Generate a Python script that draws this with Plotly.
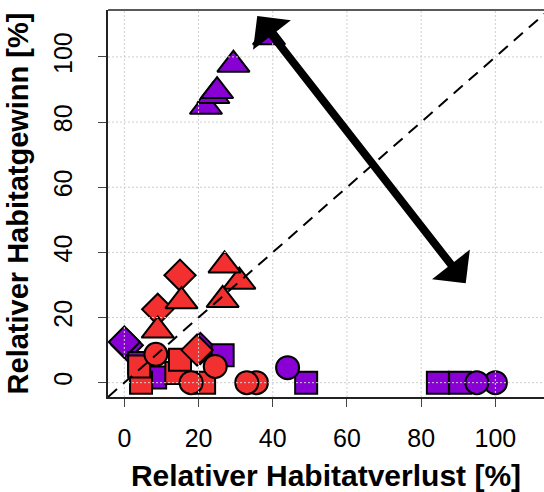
import plotly.graph_objects as go

# ---------------- data ----------------
tick_vals = [0, 20, 40, 60, 80, 100]
tick_text = ["0", "20", "40", "60", "80", "100"]

# purple group
pur_dia_x = [0.8, 0.0, 20.5]
pur_dia_y = [11.5, 12.5, 10.5]
pur_sq_x = [4.0, 8.3, 26.5, 49.0, 84.5, 90.5]
pur_sq_y = [6.0, 1.6, 8.4, 0.0, 0.0, 0.0]
pur_tri_x = [22.0, 24.0, 25.0, 29.4, 39.0]
pur_tri_y = [84.7, 88.0, 89.5, 97.6, 106.0]
pur_cir_x = [44.0, 100.0, 95.0]
pur_cir_y = [4.6, 0.0, 0.0]

# red group
red_sq_x = [4.5, 4.0, 14.0, 15.0, 21.5]
red_sq_y = [0.0, 5.0, 3.0, 7.0, 0.0]
red_dia_x = [19.6, 9.0, 15.0]
red_dia_y = [10.0, 22.5, 33.0]
red_tri_x = [9.0, 15.4, 31.0, 27.0, 26.5]
red_tri_y = [16.0, 25.0, 31.0, 36.0, 25.4]
red_cir_x = [8.5, 18.0, 24.5, 35.6, 33.0]
red_cir_y = [8.7, 0.0, 5.0, 0.0, 0.0]

# double arrow end points
arrow_start = (35.5, 113.0)
arrow_end = (92.0, 30.5)

x_range = [-4.4, 113.1]
y_range = [-4.4, 114.4]

RED = "#F23030"
PURPLE = "#8800D4"

x_title = "Relativer Habitatverlust [%]"
y_title = "Relativer Habitatgewinn [%]"

# ---------------- figure ----------------
fig = go.Figure()

def add(xs, ys, sym, color, size):
    fig.add_trace(go.Scatter(
        x=xs, y=ys, mode="markers",
        marker=dict(symbol=sym, color=color, size=size,
                    line=dict(color="black", width=2)),
        showlegend=False, hoverinfo="skip", cliponaxis=False))

add(pur_dia_x, pur_dia_y, "diamond", PURPLE, 24)
add(pur_sq_x, pur_sq_y, "square", PURPLE, 22)
add(pur_tri_x, pur_tri_y, "triangle-up", PURPLE, 28)
add(pur_cir_x, pur_cir_y, "circle", PURPLE, 23)
add(red_sq_x, red_sq_y, "square", RED, 22)
add(red_dia_x, red_dia_y, "diamond", RED, 24)
add(red_tri_x, red_tri_y, "triangle-up", RED, 28)
add(red_cir_x, red_cir_y, "circle", RED, 23)

shapes = []
# dotted grid drawn above points
for v in tick_vals:
    shapes.append(dict(type="line", xref="x", yref="paper", x0=v, x1=v, y0=0, y1=1,
                       line=dict(color="#CFCFCF", width=1, dash="2px,2px"), layer="above"))
    shapes.append(dict(type="line", xref="paper", yref="y", x0=0, x1=1, y0=v, y1=v,
                       line=dict(color="#CFCFCF", width=1, dash="2px,2px"), layer="above"))
# 1:1 line
shapes.append(dict(type="line", xref="x", yref="y", x0=y_range[0], y0=y_range[0],
                   x1=y_range[1], y1=y_range[1],
                   line=dict(color="black", width=2, dash="12px,8px"), layer="above"))
# top border
shapes.append(dict(type="line", xref="paper", yref="paper", x0=0, x1=1, y0=1, y1=1,
                   line=dict(color="#222222", width=1.5), layer="above"))

fig.update_layout(
    width=544, height=492,
    margin=dict(l=108, r=0, t=10, b=95),
    plot_bgcolor="white", paper_bgcolor="white",
    font=dict(family="Liberation Sans, Arial, sans-serif", color="black"),
    shapes=shapes,
    annotations=[dict(
        x=arrow_end[0], y=arrow_end[1], ax=arrow_start[0], ay=arrow_start[1],
        xref="x", yref="y", axref="x", ayref="y", text="",
        showarrow=True, arrowhead=1, startarrowhead=1, arrowside="end+start",
        arrowsize=1.0, startarrowsize=1.0, arrowwidth=8, arrowcolor="black",
        standoff=0, startstandoff=0)],
)

fig.update_xaxes(
    range=x_range, tickvals=tick_vals, ticktext=tick_text,
    showgrid=False, zeroline=False,
    showline=True, linecolor="#222222", linewidth=1.5,
    ticks="outside", ticklen=8, tickcolor="#444444", tickwidth=1,
    tickfont=dict(size=25), ticklabelstandoff=10,
    title=dict(text="<b>" + x_title + "</b>", font=dict(size=30), standoff=14),
)
fig.update_yaxes(
    range=y_range, tickvals=tick_vals, ticktext=tick_text,
    showgrid=False, zeroline=False,
    showline=True, linecolor="#222222", linewidth=1.5,
    ticks="outside", ticklen=8, tickcolor="#444444", tickwidth=1,
    tickfont=dict(size=25), tickangle=-90, ticklabelstandoff=16,
    title=dict(text="<b>" + y_title + "</b>", font=dict(size=29), standoff=12),
)

fig.write_html("out.html")
